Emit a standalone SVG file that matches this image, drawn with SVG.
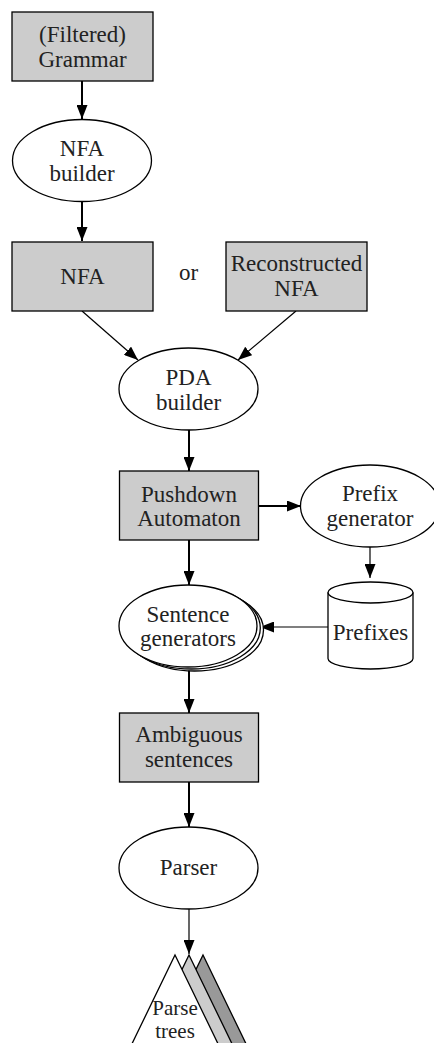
<svg xmlns="http://www.w3.org/2000/svg" width="434" height="1043" viewBox="0 0 434 1043">
<style>
  .box { fill: #cccccc; stroke: #000; stroke-width: 1.3; }
  .ell { fill: #fff; stroke: #000; stroke-width: 1.3; }
  .lbl { font-size: 23px; fill: #222; text-anchor: middle; }
  .thick { stroke: #000; stroke-width: 2; fill: none; marker-end: url(#ah); }
  .thin { stroke: #000; stroke-width: 1.2; fill: none; marker-end: url(#ah); }
</style>
<defs>
  <marker id="ah" markerUnits="userSpaceOnUse" markerWidth="14" markerHeight="11" refX="14" refY="5.5" orient="auto">
    <path d="M0,0 L14,5.5 L0,11 z" fill="#000"/>
  </marker>
</defs>
<rect width="434" height="1043" fill="#fff"/>

<g id="connectors">
  <line class="thick" x1="82" y1="81" x2="82" y2="119"/>
  <line class="thick" x1="82" y1="202" x2="82" y2="241"/>
  <line class="thin" x1="82" y1="311" x2="138" y2="360"/>
  <line class="thin" x1="296" y1="311" x2="238" y2="360"/>
  <line class="thick" x1="189" y1="430" x2="189" y2="471"/>
  <line class="thick" x1="258" y1="506" x2="301" y2="506"/>
  <line class="thin" x1="370" y1="547" x2="370" y2="578"/>
  <line class="thin" x1="328" y1="627" x2="260" y2="627"/>
  <line class="thick" x1="189" y1="540" x2="189" y2="585"/>
  <line class="thick" x1="189" y1="668" x2="189" y2="713"/>
  <line class="thick" x1="189" y1="782" x2="189" y2="827"/>
  <line class="thin" x1="189" y1="909" x2="189" y2="954"/>
</g>

<g font-family="'Liberation Serif', 'DejaVu Serif', serif">
<g id="grammar">
  <rect class="box" x="12" y="12" width="141" height="69"/>
  <text class="lbl" x="82.5" y="42">(Filtered)</text>
  <text class="lbl" x="82.5" y="67">Grammar</text>
</g>

<g id="nfa-builder">
  <ellipse class="ell" cx="82" cy="160.5" rx="69.5" ry="41"/>
  <text class="lbl" x="82" y="156">NFA</text>
  <text class="lbl" x="82" y="181">builder</text>
</g>

<g id="nfa">
  <rect class="box" x="12" y="242" width="141" height="69"/>
  <text class="lbl" x="82.5" y="284">NFA</text>
</g>

<g id="or-label">
  <text class="lbl" x="188.5" y="280">or</text>
</g>

<g id="reconstructed-nfa">
  <rect class="box" x="226" y="242" width="141" height="69"/>
  <text class="lbl" x="296.5" y="271">Reconstructed</text>
  <text class="lbl" x="296.5" y="296">NFA</text>
</g>

<g id="pda-builder">
  <ellipse class="ell" cx="188.5" cy="389" rx="69.5" ry="41"/>
  <text class="lbl" x="188.5" y="385">PDA</text>
  <text class="lbl" x="188.5" y="410">builder</text>
</g>

<g id="pushdown-automaton">
  <rect class="box" x="119.5" y="471" width="139" height="69"/>
  <text class="lbl" x="189" y="501.5">Pushdown</text>
  <text class="lbl" x="189" y="525.5">Automaton</text>
</g>

<g id="prefix-generator">
  <ellipse class="ell" cx="370" cy="506" rx="69.5" ry="41"/>
  <text class="lbl" x="370" y="501">Prefix</text>
  <text class="lbl" x="370" y="526">generator</text>
</g>

<g id="prefixes">
  <path class="ell" d="M328,592.5 L328,658.5 A42.5,10.5 0 0 0 413,658.5 L413,592.5 A42.5,10.5 0 0 0 328,592.5 Z"/>
  <path d="M328,592.5 A42.5,10.5 0 0 0 413,592.5" fill="none" stroke="#000" stroke-width="1.3"/>
  <text class="lbl" x="370.5" y="640">Prefixes</text>
</g>

<g id="sentence-generators">
  <ellipse class="ell" cx="194.5" cy="630" rx="69" ry="41"/>
  <ellipse class="ell" cx="191.3" cy="628" rx="69" ry="41"/>
  <ellipse class="ell" cx="188" cy="626" rx="69" ry="41"/>
  <text class="lbl" x="188" y="622">Sentence</text>
  <text class="lbl" x="188" y="646">generators</text>
</g>

<g id="ambiguous-sentences">
  <rect class="box" x="119.5" y="713" width="139" height="69"/>
  <text class="lbl" x="189" y="742">Ambiguous</text>
  <text class="lbl" x="189" y="767">sentences</text>
</g>

<g id="parser">
  <ellipse class="ell" cx="188.5" cy="868" rx="69.5" ry="41"/>
  <text class="lbl" x="188.5" y="875">Parser</text>
</g>

<g id="parse-trees">
  <polygon points="203,955 266,1085 140,1085" fill="#999999" stroke="#000" stroke-width="1.3"/>
  <polygon points="189,955 252,1085 126,1085" fill="#cccccc" stroke="#000" stroke-width="1.3"/>
  <polygon points="175,955 238,1085 112,1085" fill="#fff" stroke="#000" stroke-width="1.3"/>
  <text class="lbl" x="175" y="1015" font-size="21" style="font-size:21px">Parse</text>
  <text class="lbl" x="175" y="1038" font-size="21" style="font-size:21px">trees</text>
</g>
</g>
</svg>
